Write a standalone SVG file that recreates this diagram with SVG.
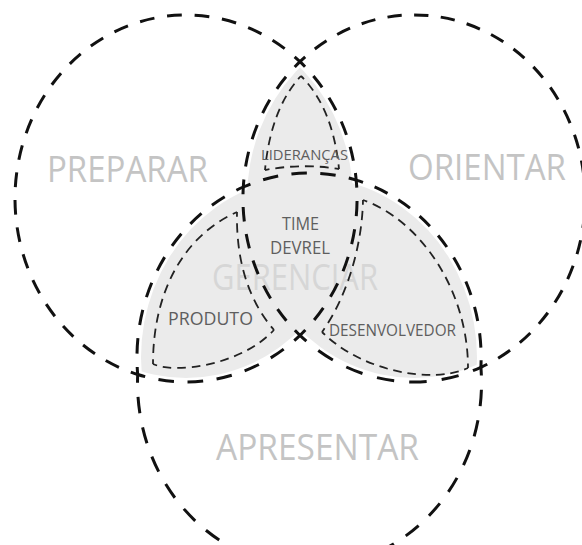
<svg xmlns="http://www.w3.org/2000/svg" width="582" height="545" viewBox="0 0 582 545">
  <style>
    .shade { fill: #ebebeb; }
    .ring { fill: none; stroke: #111; stroke-width: 3; stroke-dasharray: 15 13; stroke-dashoffset: 7.5; }
    .inner { fill: none; stroke: #222; stroke-width: 1.8; stroke-dasharray: 9 6; stroke-dashoffset: 4.5; }
    .big { font-family: "Open Sans", "Noto Sans", "Liberation Sans", sans-serif; font-size: 37px; fill: #c4c4c4; }
    .mid { fill: #d6d6d6; }
    .small { font-family: "Open Sans", "Noto Sans", "Liberation Sans", sans-serif; fill: #5e5e5e; }
  </style>
  <defs>
    <clipPath id="clipP"><ellipse cx="186" cy="198.5" rx="167" ry="179.5"/></clipPath>
    <clipPath id="clipA"><ellipse cx="309" cy="357.5" rx="168" ry="180.5"/></clipPath>
  </defs>

  <rect width="582" height="545" fill="#fff"/>

  <!-- shaded pairwise overlaps -->
  <g id="overlaps">
    <g clip-path="url(#clipP)">
      <ellipse class="shade" cx="414" cy="198.5" rx="167" ry="179.5"/>
    </g>
    <g clip-path="url(#clipA)">
      <ellipse class="shade" cx="186" cy="198.5" rx="167" ry="179.5"/>
      <ellipse class="shade" cx="414" cy="198.5" rx="167" ry="179.5"/>
    </g>
  </g>

  <!-- area titles -->
  <g id="titles">
    <text class="big mid" x="212" y="290" textLength="166" lengthAdjust="spacingAndGlyphs">GERENCIAR</text>
    <text class="big" x="47" y="182" textLength="161" lengthAdjust="spacingAndGlyphs">PREPARAR</text>
    <text class="big" x="408" y="180" textLength="158" lengthAdjust="spacingAndGlyphs">ORIENTAR</text>
    <text class="big" x="216" y="460" textLength="203" lengthAdjust="spacingAndGlyphs">APRESENTAR</text>
  </g>

  <!-- inner outlines of the overlap zones -->
  <g id="liderancas">
    <path class="inner" pathLength="105" d="M265,170 Q271,108 301,76"/>
    <path class="inner" pathLength="105" d="M301,76 Q333,108 339,169"/>
    <path class="inner" pathLength="75" d="M339,169 Q302,163 265,170"/>
  </g>
  <g id="produto">
    <path class="inner" pathLength="180" d="M237,212 C185,235 153,290 153,364"/>
    <path class="inner" pathLength="135" d="M153,364 C175,374 240,366 274,330"/>
    <path class="inner" pathLength="120" d="M274,330 C248,300 236,260 237,212"/>
  </g>
  <g id="desenvolvedor">
    <path class="inner" pathLength="210" d="M363,200 C420,220 468,290 468,368"/>
    <path class="inner" pathLength="165" d="M468,368 C430,385 360,370 322,332"/>
    <path class="inner" pathLength="135" d="M322,332 C345,300 362,250 363,200"/>
  </g>

  <!-- the three dashed rings, split at their crossings -->
  <g id="preparar">
    <path class="ring" pathLength="140" d="M300,61.7 A171 183.5 0 0 1 356.2,180.1"/>
    <path class="ring" pathLength="168" d="M356.2,180.1 A171 183.5 0 0 1 300,335.3"/>
    <path class="ring" pathLength="168" d="M300,335.3 A171 183.5 0 0 1 137.7,374.5"/>
    <path class="ring" pathLength="644" d="M137.7,374.5 A171 183.5 0 1 1 300,61.7"/>
  </g>
  <g id="orientar">
    <path class="ring" pathLength="644" d="M300,61.7 A171 183.5 0 1 1 480.9,367.3"/>
    <path class="ring" pathLength="168" d="M480.9,367.3 A171 183.5 0 0 1 300,335.3"/>
    <path class="ring" pathLength="168" d="M300,335.3 A171 183.5 0 0 1 243.3,187"/>
    <path class="ring" pathLength="140" d="M243.3,187 A171 183.5 0 0 1 300,61.7"/>
  </g>
  <g id="apresentar">
    <path class="ring" pathLength="112" d="M243.3,187 A172 184.5 0 0 1 356.2,180.1"/>
    <path class="ring" pathLength="252" d="M356.2,180.1 A172 184.5 0 0 1 480.9,367.3"/>
    <path class="ring" pathLength="532" d="M480.9,367.3 A172 184.5 0 1 1 137.7,374.5"/>
    <path class="ring" pathLength="224" d="M137.7,374.5 A172 184.5 0 0 1 243.3,187"/>
  </g>

  <!-- zone labels -->
  <g id="labels">
    <text class="small" x="261" y="160" font-size="15" textLength="87" lengthAdjust="spacingAndGlyphs">LIDERANÇAS</text>
    <text class="small" x="282" y="230" font-size="19" textLength="37" lengthAdjust="spacingAndGlyphs">TIME</text>
    <text class="small" x="270" y="254" font-size="19" textLength="60" lengthAdjust="spacingAndGlyphs">DEVREL</text>
    <text class="small" x="168" y="325" font-size="19" textLength="85" lengthAdjust="spacingAndGlyphs">PRODUTO</text>
    <text class="small" x="329" y="336" font-size="17" textLength="127" lengthAdjust="spacingAndGlyphs">DESENVOLVEDOR</text>
  </g>
</svg>
